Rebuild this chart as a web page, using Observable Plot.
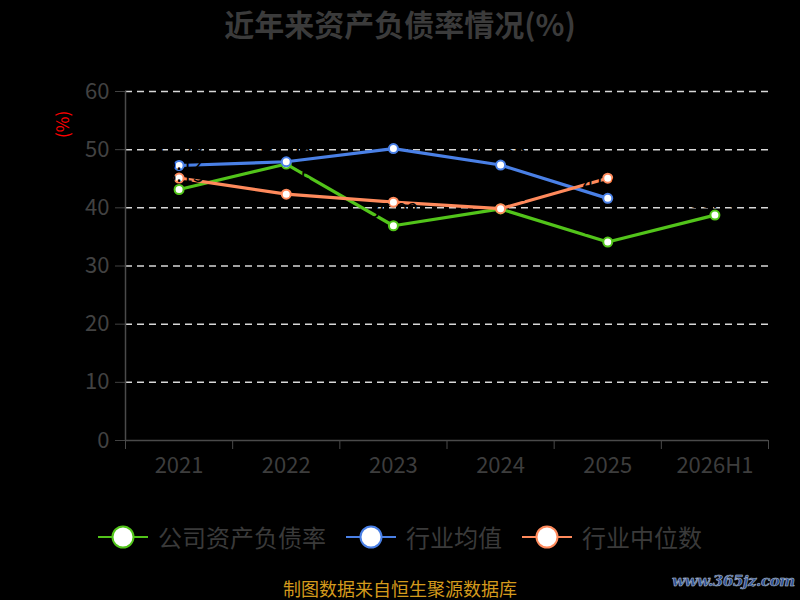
<!DOCTYPE html>
<html><head><meta charset="utf-8">
<script src="https://cdn.jsdelivr.net/npm/d3@7"></script>
<script src="https://cdn.jsdelivr.net/npm/@observablehq/plot@0.6"></script>
<style>
body{margin:0;background:#000;}
#wrap{position:relative;width:800px;height:600px;background:#000;overflow:hidden;font-family:"Noto Sans CJK SC","Noto Sans",sans-serif;}
#title{position:absolute;top:0px;left:0;width:800px;text-align:center;font-size:30px;font-weight:bold;color:#3b3b3b;line-height:46px;}
#chart{position:absolute;top:0;left:0;}
#ylabel{position:absolute;left:50px;top:114px;width:24px;height:24px;color:#ff0000;font-size:17px;line-height:24px;text-align:center;transform:rotate(-90deg);}
#legend{position:absolute;top:514px;left:0;width:800px;display:flex;justify-content:center;align-items:center;}
.item{display:flex;align-items:center;margin:0 10px;font-size:24px;color:#3a3a3a;line-height:46px;}
.item svg{margin-right:10px;}
#caption{position:absolute;top:577px;left:0;width:800px;text-align:center;font-size:18px;color:#d49a1c;line-height:22px;}
#wm{position:absolute;top:572px;left:672px;font-family:"DejaVu Serif",serif;font-weight:bold;font-style:italic;font-size:15px;color:#2b4f92;-webkit-text-stroke:0.4px #bcc4d4;text-shadow:0 0 1px #9aa;letter-spacing:-0.4px;}
</style>
</head><body>
<div id="wrap">
  <div id="chart"></div>
  <div id="title">近年来资产负债率情况(%)</div>
  <div id="ylabel">(%)</div>
  <div id="legend"></div>
  <div id="caption">制图数据来自恒生聚源数据库</div>
  <div id="wm">www.365jz.com</div>
</div>
<script>
const categories = ["2021","2022","2023","2024","2025","2026H1"];
const companyRatio = [43.15, 47.53, 36.92, 39.81, 34.12, 38.75];
const industryAvg = [47.28, 47.92, 50.18, 47.36, 41.63];
const industryMedian = [45.12, 42.35, 40.98, 39.85, 45.10];
const yTicks = [0, 10, 20, 30, 40, 50, 60];
const seriesNames = ["公司资产负债率", "行业均值", "行业中位数"];
const seriesColors = ["#52c41a", "#4a80e6", "#ff8a5c"];

const seriesValues = [companyRatio, industryAvg, industryMedian];
const rows = [];
seriesValues.forEach((vals, s) => {
  vals.forEach((v, i) => rows.push({series: seriesNames[s], idx: i + 0.5, value: v}));
});

const marks = [
  Plot.ruleY(yTicks.filter(d => d > 0), {stroke: "#d8d8d8", strokeWidth: 1.5, strokeDasharray: "7,5"}),
  Plot.ruleX([0], {stroke: "#4a4a4a", strokeWidth: 1.5}),
  Plot.ruleY([0], {stroke: "#4a4a4a", strokeWidth: 1.5}),
  Plot.axisY({ticks: yTicks, tickSize: 10, tickPadding: 6, fontSize: 22, color: "#424242", label: null}),
  Plot.axisX({ticks: d3.range(0, 7), tickFormat: () => "", tickSize: 9, color: "#4a4a4a", label: null}),
  Plot.text(categories, {x: (d, i) => i + 0.5, y: () => 0, text: d => d, dy: 25, fontSize: 22, fill: "#3d3d3d", lineAnchor: "middle"})
];
seriesNames.forEach((name, s) => {
  const data = rows.filter(r => r.series === name);
  marks.push(Plot.line(data, {x: "idx", y: "value", stroke: seriesColors[s], strokeWidth: 3.2}));
  marks.push(Plot.dot(data, {x: "idx", y: "value", r: 4.5, fill: "#fff", stroke: seriesColors[s], strokeWidth: 2}));
});
seriesNames.forEach((name, s) => {
  const data = rows.filter(r => r.series === name);
  marks.push(Plot.text(data, {x: "idx", y: "value", text: d => d.value.toFixed(2), dy: -14, fontSize: 20, fill: "#000"}));
});

const chart = Plot.plot({
  width: 800,
  height: 500,
  marginTop: 91,
  marginBottom: 60,
  marginLeft: 125,
  marginRight: 32,
  x: {type: "linear", domain: [0, 6], axis: null},
  y: {domain: [0, 60], axis: null},
  style: {background: "transparent", fontFamily: "'Noto Sans CJK SC','Noto Sans',sans-serif", color: "#444", overflow: "visible"},
  marks
});
document.getElementById("chart").appendChild(chart);

const legend = d3.select("#legend");
seriesNames.forEach((name, s) => {
  const it = legend.append("div").attr("class", "item");
  const svg = it.append("svg").attr("width", 50).attr("height", 26);
  svg.append("line").attr("x1", 0).attr("x2", 50).attr("y1", 13).attr("y2", 13).attr("stroke", seriesColors[s]).attr("stroke-width", 2);
  svg.append("circle").attr("cx", 25).attr("cy", 13).attr("r", 10.5).attr("fill", "#fff").attr("stroke", seriesColors[s]).attr("stroke-width", 2);
  it.append("span").text(name);
});
</script>
</body></html>
